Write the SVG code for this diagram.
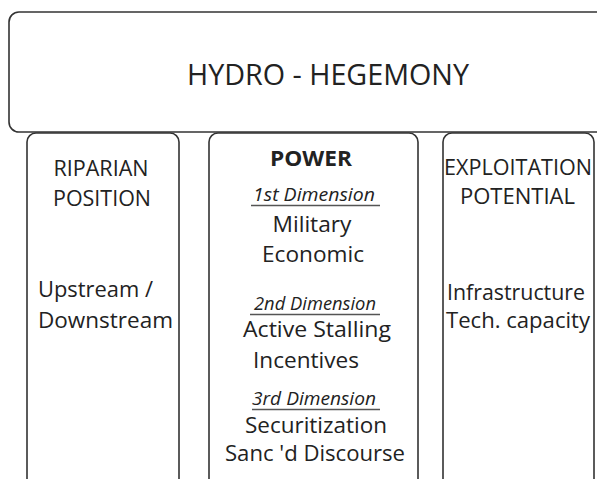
<svg xmlns="http://www.w3.org/2000/svg" width="597" height="479" viewBox="0 0 597 479">
<style>
.box{fill:#fff;stroke:#333;stroke-width:1.6}
text{font-family:"Open Sans","Noto Sans",sans-serif;fill:#222}
.t{font-size:29px}
.h{font-size:21px}
.b{font-size:21px;font-weight:bold}
.i{font-size:17.5px;font-style:italic}
.n{font-size:22px}
.ul{stroke:#555;stroke-width:1.3}
.c{text-anchor:middle}
</style>
<rect width="597" height="479" fill="#fff"/>
<g id="connectors"></g>
<g id="hydro-hegemony">
<rect class="box" x="9" y="12" width="600" height="120" rx="10"/>
<text class="t c" x="328" y="85" textLength="282" lengthAdjust="spacingAndGlyphs">HYDRO - HEGEMONY</text>
</g>
<g id="riparian">
<rect class="box" x="27" y="133" width="152" height="370" rx="9"/>
<text class="h c" x="101" y="176" textLength="95" lengthAdjust="spacingAndGlyphs">RIPARIAN</text>
<text class="h c" x="102" y="206" textLength="98" lengthAdjust="spacingAndGlyphs">POSITION</text>
<text class="n" x="38" y="297" textLength="115" lengthAdjust="spacingAndGlyphs">Upstream /</text>
<text class="n" x="38" y="328" textLength="135" lengthAdjust="spacingAndGlyphs">Downstream</text>
</g>
<g id="power">
<rect class="box" x="209" y="133" width="209" height="370" rx="9"/>
<text class="b c" x="311" y="166" textLength="82" lengthAdjust="spacingAndGlyphs">POWER</text>
<text class="i c" x="314" y="201" textLength="122" lengthAdjust="spacingAndGlyphs">1st Dimension</text>
<line class="ul" x1="251" y1="205.5" x2="380" y2="205.5"/>
<text class="n c" x="312" y="232" textLength="79" lengthAdjust="spacingAndGlyphs">Military</text>
<text class="n c" x="313" y="262" textLength="102" lengthAdjust="spacingAndGlyphs">Economic</text>
<text class="i c" x="315" y="310" textLength="122" lengthAdjust="spacingAndGlyphs">2nd Dimension</text>
<line class="ul" x1="250" y1="314.5" x2="380" y2="314.5"/>
<text class="n c" x="317" y="337" textLength="148" lengthAdjust="spacingAndGlyphs">Active Stalling</text>
<text class="n c" x="306" y="368" textLength="106" lengthAdjust="spacingAndGlyphs">Incentives</text>
<text class="i c" x="314" y="405" textLength="124" lengthAdjust="spacingAndGlyphs">3rd Dimension</text>
<line class="ul" x1="252" y1="409.5" x2="380" y2="409.5"/>
<text class="n c" x="316" y="433" textLength="142" lengthAdjust="spacingAndGlyphs">Securitization</text>
<text class="n c" x="315" y="461" textLength="180" lengthAdjust="spacingAndGlyphs">Sanc 'd Discourse</text>
</g>
<g id="exploitation">
<rect class="box" x="443" y="133" width="151" height="370" rx="9"/>
<text class="h c" x="518" y="175" textLength="148" lengthAdjust="spacingAndGlyphs">EXPLOITATION</text>
<text class="h c" x="517.5" y="204" textLength="115" lengthAdjust="spacingAndGlyphs">POTENTIAL</text>
<text class="n" x="447" y="300" textLength="138" lengthAdjust="spacingAndGlyphs">Infrastructure</text>
<text class="n" x="446" y="328" textLength="144" lengthAdjust="spacingAndGlyphs">Tech. capacity</text>
</g>
</svg>
